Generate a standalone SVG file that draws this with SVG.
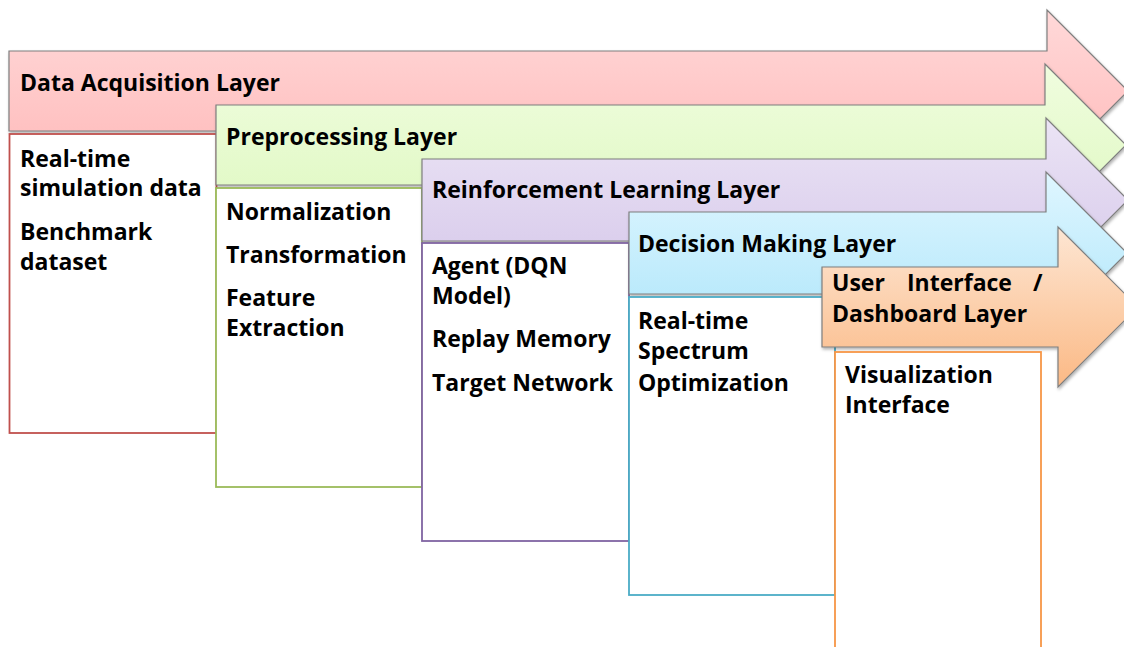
<svg xmlns="http://www.w3.org/2000/svg" width="1124" height="647" viewBox="0 0 1124 647">
<style>
.arrow{stroke:#7f7f7f;stroke-width:1.2;filter:url(#sh)}
.box{fill:#ffffff;stroke-width:1.8}
text{font-family:"Open Sans",Lato,sans-serif;font-weight:bold;font-size:23px;fill:#000}
</style>
<defs>
<filter id="sh" x="-5%" y="-20%" width="110%" height="140%">
<feDropShadow dx="1" dy="2" stdDeviation="1.5" flood-color="#000" flood-opacity="0.3"/>
</filter>
<linearGradient id="gRed" x1="0" y1="0" x2="0" y2="1"><stop offset="0" stop-color="#ffd9d9"/><stop offset="1" stop-color="#ffb9b9"/></linearGradient>
<linearGradient id="gGreen" x1="0" y1="0" x2="0" y2="1"><stop offset="0" stop-color="#f0fddf"/><stop offset="1" stop-color="#def8c0"/></linearGradient>
<linearGradient id="gPurple" x1="0" y1="0" x2="0" y2="1"><stop offset="0" stop-color="#ebe4f5"/><stop offset="1" stop-color="#d6c8ea"/></linearGradient>
<linearGradient id="gBlue" x1="0" y1="0" x2="0" y2="1"><stop offset="0" stop-color="#dff6ff"/><stop offset="1" stop-color="#afe6fa"/></linearGradient>
<linearGradient id="gOrange" x1="0" y1="0" x2="0" y2="1"><stop offset="0" stop-color="#fde6d3"/><stop offset="1" stop-color="#fbb985"/></linearGradient>
</defs>
<g id="layer-data-acquisition">
<path class="arrow" fill="url(#gRed)" d="M9,51 H1047 V10 L1128,91 L1047,172 V131 H9 Z"/>
<text x="20" y="91">Data Acquisition Layer</text>
<rect class="box" stroke="#c0504d" x="9.5" y="134" width="207" height="299"/>
<text x="20" y="167">Real-time</text>
<text x="20" y="196">simulation data</text>
<text x="20" y="240">Benchmark</text>
<text x="20" y="270">dataset</text>
</g>
<g id="layer-preprocessing">
<path class="arrow" fill="url(#gGreen)" d="M216,105 H1045 V64 L1126,145 L1045,226 V185 H216 Z"/>
<text x="226" y="145">Preprocessing Layer</text>
<rect class="box" stroke="#9bbb59" x="216" y="188" width="206" height="299"/>
<text x="226" y="220">Normalization</text>
<text x="226" y="263">Transformation</text>
<text x="226" y="306">Feature</text>
<text x="226" y="336">Extraction</text>
</g>
<g id="layer-rl">
<path class="arrow" fill="url(#gPurple)" d="M422,159 H1046 V118 L1128,200 L1046,282 V241 H422 Z"/>
<text x="432" y="198">Reinforcement Learning Layer</text>
<rect class="box" stroke="#8064a2" x="422" y="243" width="207" height="298"/>
<text x="432" y="274">Agent (DQN</text>
<text x="432" y="304">Model)</text>
<text x="432" y="347">Replay Memory</text>
<text x="432" y="391">Target Network</text>
</g>
<g id="layer-decision">
<path class="arrow" fill="url(#gBlue)" d="M629,212 H1046 V172 L1127,253 L1046,334 V294 H629 Z"/>
<text x="638" y="252">Decision Making Layer</text>
<rect class="box" stroke="#4bacc6" x="629" y="297" width="206" height="298"/>
<text x="638" y="329">Real-time</text>
<text x="638" y="359">Spectrum</text>
<text x="638" y="391">Optimization</text>
</g>
<g id="layer-ui">
<path class="arrow" fill="url(#gOrange)" d="M822,267 H1058 V227 L1138,307 L1058,387 V347 H822 Z"/>
<text x="832" y="291">User</text>
<text x="907" y="291">Interface</text>
<text x="1033" y="291">/</text>
<text x="832" y="322">Dashboard Layer</text>
<rect class="box" stroke="#f79646" x="835" y="352" width="206" height="310"/>
<text x="845" y="383">Visualization</text>
<text x="845" y="413">Interface</text>
</g>
<g id="connectors"></g>
</svg>
